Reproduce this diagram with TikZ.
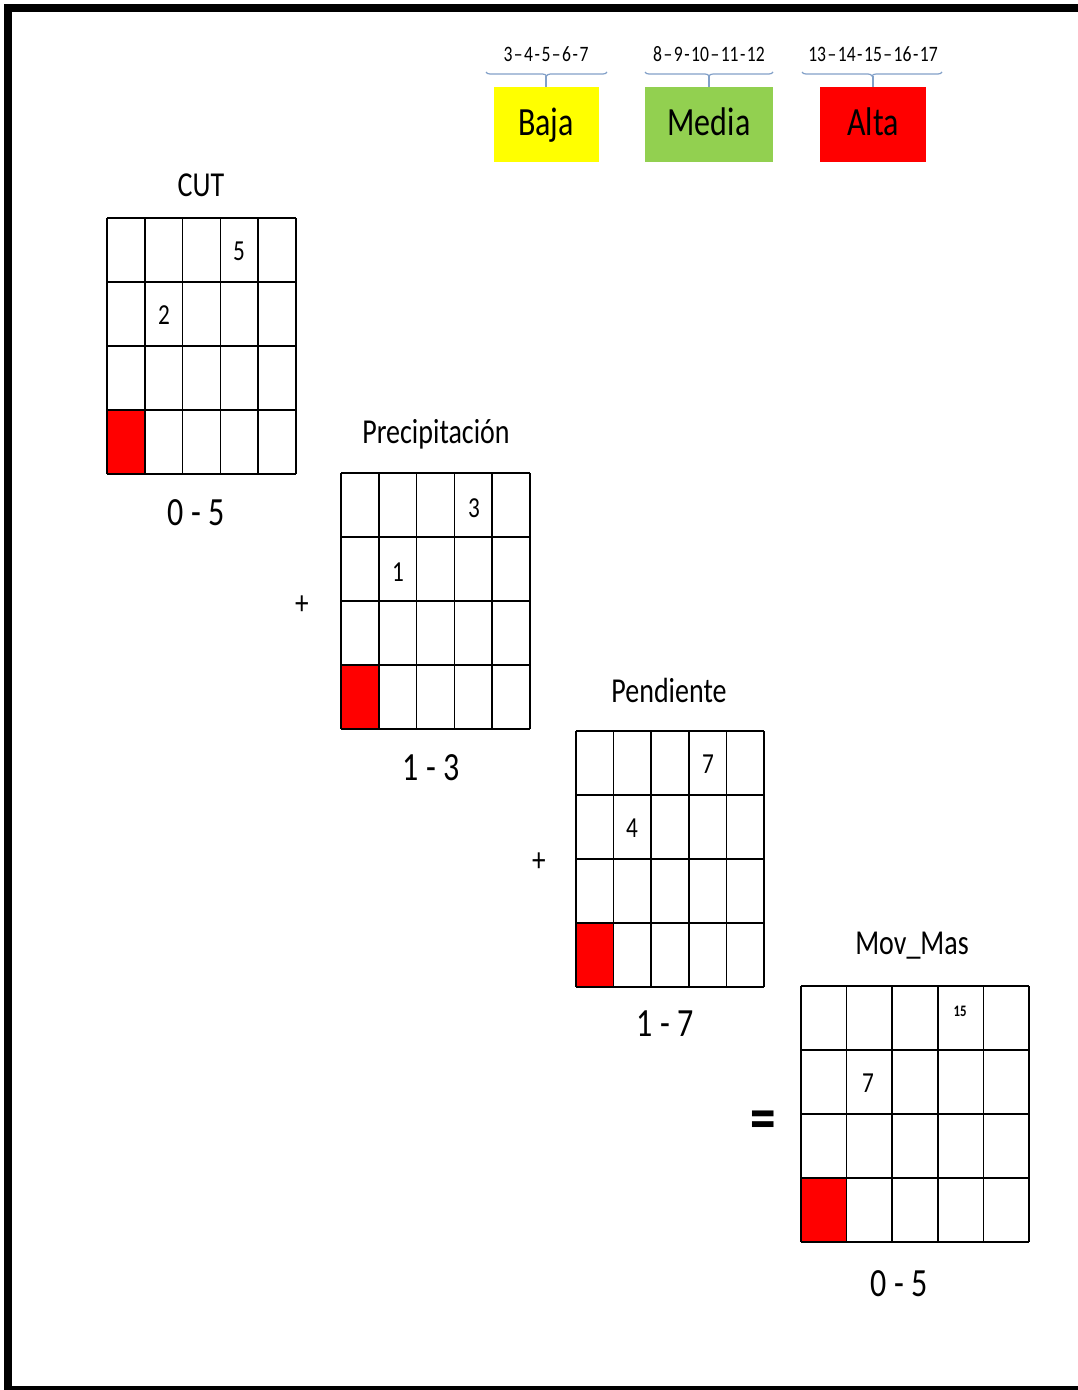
\documentclass[tikz,border=0pt]{standalone}
\usepackage{fontspec}
\setmainfont{Carlito}[FakeStretch=0.8]
\usetikzlibrary{decorations.pathreplacing}
\definecolor{lowY}{RGB}{255,255,0}
\definecolor{midG}{RGB}{146,208,80}
\definecolor{highR}{RGB}{255,0,0}
\definecolor{bracec}{RGB}{130,160,200}
\newcommand{\fsz}[1]{\fontsize{#1}{#1}\selectfont}
\newcommand{\ld}{\kern1.5pt–\kern1.5pt}
\newcommand{\sd}{\kern1.5pt-\kern1.5pt}

\begin{document}
\begin{tikzpicture}[
  x=1pt, y=-1pt,
  gline/.style={line width=1.5pt},
  ttl/.style={font=\fsz{35}},
  rng/.style={font=\fsz{40}},
  num/.style={font=\fsz{29}},
  op/.style={font=\fsz{34}},
  lvl/.style={minimum height=75pt,inner sep=0pt,text depth=8pt,text height=30pt,font=\fsz{40}},
  lvlnum/.style={font=\fsz{22}},
  brc/.style={draw=bracec,line width=1.2pt,decorate,decoration={brace,mirror,amplitude=4pt}},
]
\useasboundingbox (0,0) rectangle (1077,1390);
% frame
\draw[line width=8pt] (1090,7.5) -- (8,7.5) -- (8,1390) -- (1090,1390);

% ---- legend: classes ----
\foreach \nm/\cx/\w/\c/\lab/\nums/\bl/\br in {
    baja/546/105/lowY/Baja/{3\ld4\sd5\ld6\sd7}/486/607,
    media/709/128/midG/Media/{8\ld9\sd10\ld11\sd12}/645/773,
    alta/873/106/highR/Alta/{13\ld14\sd15\ld16\sd17}/802/942}{
  \node[lvl,fill=\c,minimum width=\w] (\nm) at (\cx,124.5) {\lab};
  \node[lvlnum] (\nm N) at (\cx,54) {\nums};
  \draw[brc] (\bl,72) coordinate (\nm L) -- (\br,72) coordinate (\nm R);
  \draw[bracec,line width=1.2pt] (\nm.north) -- (\cx,76);
}

% ---- grids (red cell bottom left) ----
\foreach \gx/\gy/\cw in {107/218/37.8, 341/473/37.8, 576/731/37.6, 801/986/45.6}{
  \fill[highR] (\gx,\gy+192) rectangle ++(\cw,64);
  \foreach \i in {0,...,5} \draw[gline] (\gx+\i*\cw,\gy) -- ++(0,256);
  \foreach \j in {0,...,4} \draw[gline] (\gx,\gy+\j*64) -- ++(5*\cw,0);
}

% CUT
\node[ttl] (cutT) at (201,185) {CUT};
\node[num] (cutA) at (239,251) {5};
\node[num] (cutB) at (164,315) {2};
\node[rng] (cutR) at (196,513) {0 - 5};

% Precipitacion
\node[op] (plusA) at (302,605) {+};
\node[ttl] (preT) at (436,434) {Precipitación};
\node[num] (preA) at (474,508) {3};
\node[num] (preB) at (398,572) {1};
\node[rng] (preR) at (431,768) {1 - 3};

% Pendiente
\node[op] (plusB) at (539,862) {+};
\node[ttl] (penT) at (669,690) {Pendiente};
\node[num] (penA) at (708,764) {7};
\node[num] (penB) at (632,828) {4};
\node[rng] (penR) at (665,1024) {1 - 7};

% Mov_Mas
\node[font=\fsz{64}\bfseries] (eq) at (763,1125) {=};
\node[ttl] (movT) at (912,946) {Mov\_Mas};
\node[font=\fsz{16}\bfseries] (movA) at (960,1011) {15};
\node[num] (movB) at (868,1083) {7};
\node[rng] (movR) at (899,1284) {0 - 5};
\end{tikzpicture}
\end{document}
